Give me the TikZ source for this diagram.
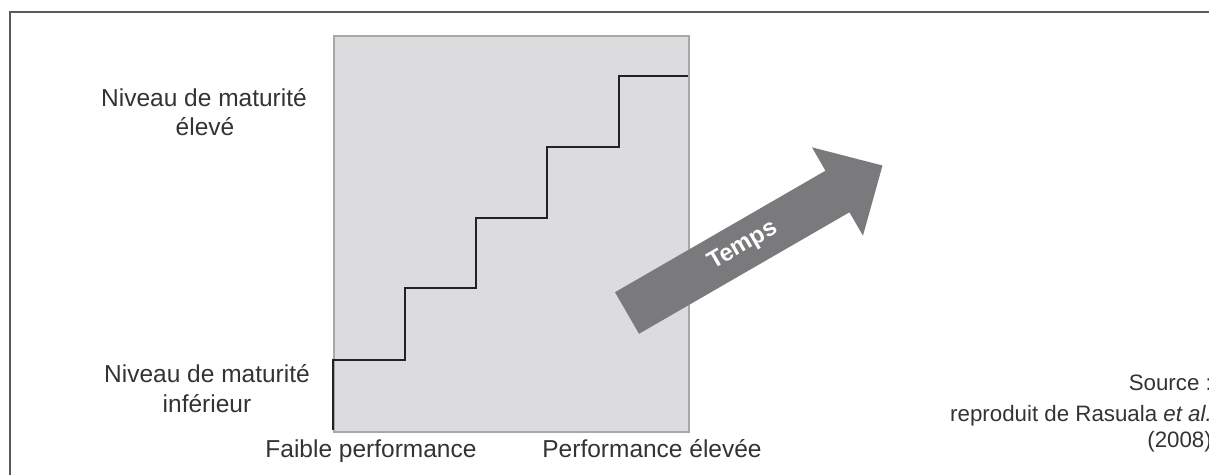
\documentclass[tikz,border=0pt]{standalone}
\usepackage{fontspec}
\setmainfont{Liberation Sans}
\definecolor{framegray}{HTML}{5A5A5A}
\definecolor{panelfill}{HTML}{DCDCDE}
\definecolor{panelline}{HTML}{A8A8A8}
\definecolor{stairline}{HTML}{222222}
\definecolor{arrowgray}{HTML}{7A7A7C}
\definecolor{labelgray}{HTML}{333333}
\begin{document}
\begin{tikzpicture}[x=1pt,y=-1pt,
  lbl/.style={font=\fontsize{24.5}{29}\selectfont, text=labelgray, inner sep=0pt, anchor=base},
  src/.style={font=\fontsize{22.3}{28}\selectfont, text=labelgray, inner sep=0pt, anchor=base east},
  stairs/.style={draw=stairline, line width=2.7pt, line join=miter},
  temps/.style={font=\fontsize{24}{26}\selectfont\bfseries, text=white, inner sep=0pt}]
\useasboundingbox (0,0) rectangle (1209,474);

% outer frame (only its left and top sides fall inside the page)
\coordinate (fbl) at (10,480);
\coordinate (ftl) at (10,11.5);
\coordinate (ftr) at (1215,11.5);
\draw[framegray, line width=2pt] (fbl) -- (ftl) -- (ftr);

% grey panel
\node[draw=panelline, fill=panelfill, line width=1.6pt, inner sep=0pt,
      minimum width=355pt, minimum height=396pt, anchor=north west] (panel) at (333,35) {};

% staircase of maturity levels
\coordinate (s0) at (333,430);
\coordinate (s1) at (405,360);
\coordinate (s2) at (476,288);
\coordinate (s3) at (547,218);
\coordinate (s4) at (619,147);
\coordinate (s5) at (688,76);
\draw[stairs] (s0) |- (s1) |- (s2) |- (s3) |- (s4) |- (s5);

% time arrow
\begin{scope}[shift={(627,313)}, rotate=30]
  \fill[arrowgray] (0,-24) -- (243,-24) -- (243,-51) -- (295,0) -- (243,51) -- (243,24) -- (0,24) -- cycle;
  \node[temps, rotate=30] (tps) at (134,0) {Temps};
\end{scope}

% level labels
\node[lbl] (hi1) at (204,106) {Niveau de maturité};
\node[lbl] (hi2) at (205,135) {élevé};
\node[lbl] (lo1) at (207,382) {Niveau de maturité};
\node[lbl] (lo2) at (207,412) {inférieur};

% performance labels
\node[lbl] (lowperf) at (371,457) {Faible performance};
\node[lbl] (highperf) at (652,457) {Performance élevée};

% source
\node[src] (src1) at (1212,390) {Source :};
\node[src] (src2) at (1212,421) {reproduit de Rasuala \textit{et al.}};
\node[src] (src3) at (1212,447) {(2008)};
\end{tikzpicture}
\end{document}
